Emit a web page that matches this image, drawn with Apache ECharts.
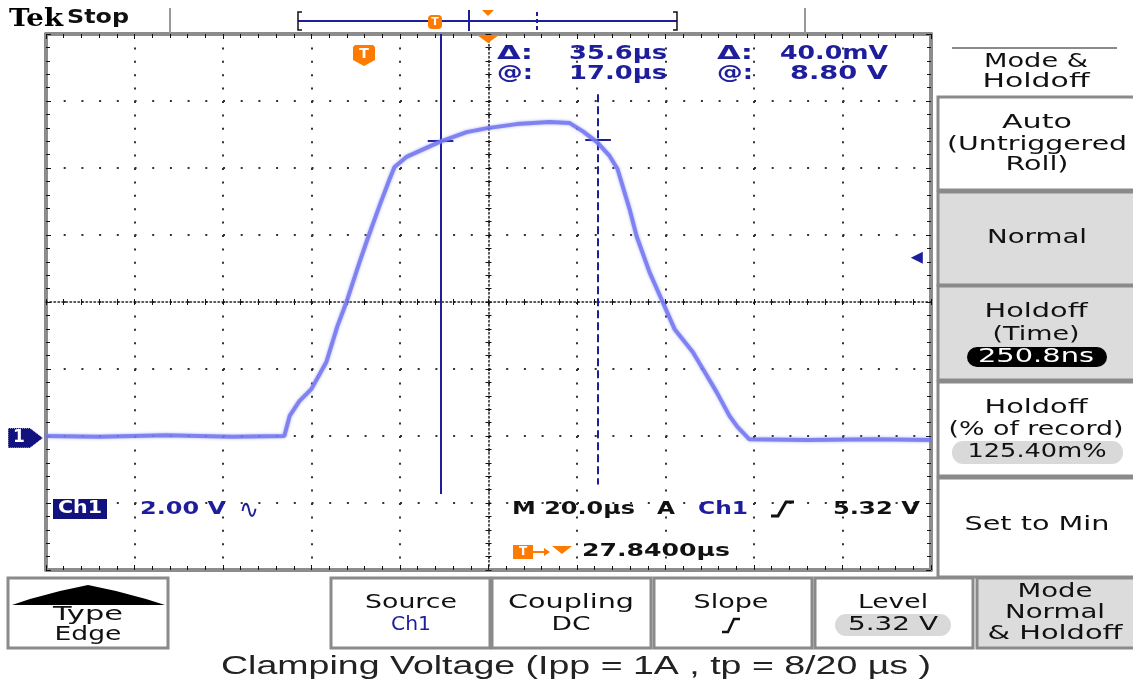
<!DOCTYPE html>
<html><head><meta charset="utf-8">
<script src="https://cdn.jsdelivr.net/npm/echarts@6/dist/echarts.min.js"></script>
<style>html,body{margin:0;padding:0;background:#fff}#c{width:1133px;height:685px}</style>
</head><body><div id="c"></div>
<script>
// ---------- data (time in µs relative to trigger, volts) ----------
const timeUs = [-72.16, -60, -45, -30, -18.3, -17.1, -14.9, -12.2, -8.8, -6.3, -4.25, -1.3, 0.5, 3.2, 5.5, 6.6, 9.3, 13.8, 16.8, 22.9, 27.6, 34.2, 41.6, 46.2, 49.1, 52.3, 55.2, 57.0, 59.7, 61.3, 64.2, 67.2, 69.9, 74.0, 76.7, 79.4, 82.3, 84.1, 86.8, 100, 115, 127.84];
const volts  = [0.0, -0.02, 0.02, -0.02, 0.0, 0.6, 1.04, 1.4, 2.21, 3.28, 4.0, 5.19, 5.88, 6.87, 7.67, 8.03, 8.33, 8.6, 8.78, 9.07, 9.19, 9.31, 9.37, 9.34, 9.1, 8.78, 8.36, 7.97, 6.78, 5.97, 4.9, 4.0, 3.19, 2.51, 1.91, 1.31, 0.6, 0.27, -0.1, -0.12, -0.1, -0.12];
const xRange = [-72.16, 127.84];   // screen span, µs (20 µs/div, centre = 27.84 µs)
const yRange = [-4, 12];           // volts (2 V/div)
const divTime = 20, divVolt = 2;
const cursorTimes = [17.0, 52.6];
const cursorVolts = [8.80, 8.84];
const cursorSpans = [[12, -1.73], [10.2, -1.45]];
const crossHalf = 2.9;             // µs
const trigLevel = 5.32;

// ---------- helpers ----------
const B = '#1e1e9c', NAVY = '#12127e', OR = '#ff7a00', GR = '#8a8a8a';
const mctx = document.createElement('canvas').getContext('2d');
function T(str, x, y, o) {
  o = o || {};
  const size = o.size || 20, weight = o.weight || 'normal', fam = o.family || 'DejaVu Sans';
  mctx.font = weight + ' ' + size + 'px "' + fam + '"';
  const mw = mctx.measureText(str).width;
  const sx = o.w ? o.w / mw : 1;
  const al = o.align || 'center';
  return {type:'text', x:x, y:y, scaleX:sx, z:o.z||20, silent:true,
    style:{text:str, fill:o.color||'#111', fontSize:size, fontWeight:weight, fontFamily:fam,
      textAlign:al, textVerticalAlign:'middle', align:al, verticalAlign:'middle'}};
}
function R(x, y, w, h, fill, o) { o=o||{}; return {type:'rect', z:o.z||10, silent:true, shape:{x:x,y:y,width:w,height:h,r:o.r||0}, style:{fill:fill, stroke:o.stroke||null, lineWidth:o.lw||0}}; }
function L(x1,y1,x2,y2,c,w,dash) { return {type:'line', z:15, silent:true, shape:{x1:x1,y1:y1,x2:x2,y2:y2}, style:{stroke:c, lineWidth:w, lineDash:dash||null}}; }
function P(pts, fill, z) { return {type:'polygon', z:z||15, silent:true, shape:{points:pts}, style:{fill:fill}}; }
function PL(pts, c, w) { return {type:'polyline', z:15, silent:true, shape:{points:pts}, style:{stroke:c, lineWidth:w, fill:null}}; }

const g = [];
// header
g.push(T('Tek', 9, 19, {align:'left', family:'DejaVu Serif', weight:'bold', size:25, w:54, color:'#000'}));
g.push(T('Stop', 67, 18, {align:'left', weight:'bold', size:19, w:62, color:'#111'}));
g.push(L(170, 8, 170, 33, '#999', 2), L(805, 8, 805, 33, '#999', 2));
g.push(L(298, 21, 677, 21, B, 2));
g.push(PL([[302,12],[298,12],[298,30],[302,30]], '#111', 1.5), PL([[673,12],[677,12],[677,30],[673,30]], '#111', 1.5));
g.push(L(469, 10, 469, 31, B, 2), L(537, 12, 537, 30, B, 2, [4,3]));
g.push(P([[482,10],[494,10],[488,16]], OR));
g.push(R(428, 15, 14, 14, OR, {r:4, z:16}), T('T', 435, 22, {size:11, weight:'bold', color:'#fff', z:17}));
g.push(P([[477,35],[499,35],[488,43]], OR, 30));
// trigger badge inside graticule
g.push(P([[353,47],[355,45],[373,45],[375,47],[375,60],[364,66],[353,60]], OR, 30), T('T', 364, 54, {size:14, weight:'bold', color:'#fff', z:31}));
// readouts
g.push(T('Δ:', 497, 54, {align:'left', weight:'bold', size:19, w:36, color:B}));
g.push(T('35.6µs', 667, 54, {align:'right', weight:'bold', size:19, w:98, color:B}));
g.push(T('Δ:', 717, 54, {align:'left', weight:'bold', size:19, w:36, color:B}));
g.push(T('40.0mV', 888, 54, {align:'right', weight:'bold', size:19, w:108, color:B}));
g.push(T('@:', 497, 74, {align:'left', weight:'bold', size:19, w:36, color:B}));
g.push(T('17.0µs', 667, 74, {align:'right', weight:'bold', size:19, w:98, color:B}));
g.push(T('@:', 717, 74, {align:'left', weight:'bold', size:19, w:36, color:B}));
g.push(T('8.80 V', 888, 74, {align:'right', weight:'bold', size:19, w:98, color:B}));
// channel / timebase
g.push(R(53, 499, 54, 20, NAVY, {z:30}), T('Ch1', 80, 509, {size:17, weight:'bold', color:'#fff', w:44, z:31}));
g.push(T('2.00 V', 140, 509, {align:'left', weight:'bold', size:18, w:86, color:B, z:31}));
g.push(T('∿', 239, 511, {align:'left', size:26, w:20, color:B, z:31}));
g.push(T('M 20.0µs', 512, 509, {align:'left', weight:'bold', size:18, w:123, z:31}));
g.push(T('A', 657, 509, {align:'left', weight:'bold', size:18, w:18, z:31}));
g.push(T('Ch1', 698, 509, {align:'left', weight:'bold', size:18, w:50, color:B, z:31}));
g.push(PL([[771,516],[778,516],[786,502],[794,502]], '#111', 3));
g.push(T('5.32 V', 920, 509, {align:'right', weight:'bold', size:18, w:87, z:31}));
g.push(R(513, 545, 20, 14, OR, {z:30}), T('T', 523, 552, {size:12, weight:'bold', color:'#fff', z:31}));
g.push(L(533, 552, 546, 552, OR, 2), P([[544,548],[550,552],[544,556]], OR, 31), P([[552,546],[572,546],[562,554]], OR, 31));
g.push(T('27.8400µs', 582, 551, {align:'left', weight:'bold', size:18, w:148, z:31}));
// ground marker
g.push({type:'polygon', z:30, silent:true, shape:{points:[[8,428],[30,428],[43,438],[30,448],[8,448]]}, style:{fill:NAVY, stroke:'#fff', lineWidth:1, lineDash:[1,1]}});
g.push(T('1', 19, 438, {size:17, weight:'bold', color:'#fff', z:31}));
// right menu
g.push(L(952, 48, 1117, 48, GR, 2));
g.push(T('Mode &', 1036, 62, {w:104}), T('Holdoff', 1036, 82, {w:107}));
g.push(R(938, 97, 200, 93, '#fff', {stroke:GR, lw:3}));
g.push(T('Auto', 1037, 123, {w:70}), T('(Untriggered', 1037, 145, {w:180}), T('Roll)', 1037, 165, {w:63}));
g.push(R(938, 192, 200, 93, '#dcdcdc', {stroke:GR, lw:3}));
g.push(T('Normal', 1037, 238, {w:100}));
g.push(R(938, 286, 200, 94, '#dcdcdc', {stroke:GR, lw:3}));
g.push(T('Holdoff', 1036, 312, {w:103}), T('(Time)', 1036, 335, {w:87}));
g.push(R(967, 347, 140, 20, '#000', {r:10, z:16}), T('250.8ns', 1036, 357, {w:116, color:'#fff', z:21}));
g.push(R(938, 382, 200, 94, '#fff', {stroke:GR, lw:3}));
g.push(T('Holdoff', 1036, 408, {w:103}), T('(% of record)', 1036, 430, {w:175}));
g.push(R(952, 441, 171, 23, '#d9d9d9', {r:11, z:16}), T('125.40m%', 1037, 452, {w:139, z:21}));
g.push(R(938, 478, 200, 99, '#fff', {stroke:GR, lw:3}));
g.push(T('Set to Min', 1037, 525, {w:145}));
// bottom menu
g.push(R(8, 578, 160, 70, '#fff', {stroke:GR, lw:3}));
g.push(P([[12,605],[30,599],[60,591],[88,585],[116,591],[146,599],[165,605]], '#000', 16));
g.push(T('Type', 88, 615, {w:70}), T('Edge', 88, 635, {w:67}));
g.push(R(331, 578, 159, 70, '#fff', {stroke:GR, lw:3}));
g.push(T('Source', 411, 603, {w:92}), T('Ch1', 411, 625, {w:40, color:B}));
g.push(R(492, 578, 159, 70, '#fff', {stroke:GR, lw:3}));
g.push(T('Coupling', 571, 603, {w:126}), T('DC', 571, 625, {w:39}));
g.push(R(654, 578, 158, 70, '#fff', {stroke:GR, lw:3}));
g.push(T('Slope', 731, 603, {w:75}), PL([[722,632],[728,632],[734,619],[740,619]], '#111', 2.5));
g.push(R(815, 578, 158, 70, '#fff', {stroke:GR, lw:3}));
g.push(T('Level', 893, 603, {w:70}), R(835, 614, 116, 22, '#d9d9d9', {r:11, z:16}), T('5.32 V', 893, 625, {w:90, z:21}));
g.push(R(977, 578, 160, 70, '#dcdcdc', {stroke:GR, lw:3}));
g.push(T('Mode', 1055, 592, {w:75}), T('Normal', 1055, 613, {w:100}), T('& Holdoff', 1055, 634, {w:135}));
// caption
g.push(T('Clamping Voltage (Ipp = 1A , tp = 8/20 µs )', 576, 667, {family:'Liberation Sans', size:25, w:710, color:'#222'}));

// ---------- axes (graticule) ----------
const X = {type:'value', min:xRange[0], max:xRange[1], interval:divTime, axisLabel:{show:false}, splitLine:{show:false}};
const Y = {type:'value', min:yRange[0], max:yRange[1], interval:divVolt, axisLabel:{show:false}, splitLine:{show:false}};
const frameLine = {onZero:false, lineStyle:{color:'#8c8c8c', width:4}};
const tick = (inside, len) => ({show:true, inside:inside, length:len, lineStyle:{color:'#111', width:1}});
const minor = (len) => ({show:true, splitNumber:5, length:len, lineStyle:{color:'#111', width:1}});
const centreLine = {onZero:false, lineStyle:{color:'#222', width:1.5, type:[1.5,2.5]}};

const chart = echarts.init(document.getElementById('c'), null, {renderer:'canvas'});
chart.setOption({
  animation:false,
  backgroundColor:'#fff',
  grid:{left:46, top:34, width:885, height:536, containLabel:false, outerBoundsMode:'none'},
  xAxis:[
    Object.assign({}, X, {position:'bottom', axisLine:frameLine, axisTick:tick(true,5), minorTick:minor(4),
      splitLine:{show:true, lineStyle:{color:'#333', width:2, type:[2,11.4]}}}),
    Object.assign({}, X, {position:'top', axisLine:frameLine, axisTick:tick(true,5), minorTick:minor(4)}),
    Object.assign({}, X, {position:'bottom', offset:-268, axisLine:centreLine, axisTick:tick(true,3), minorTick:minor(3)}),
    Object.assign({}, X, {position:'bottom', offset:-268, axisLine:{show:false, onZero:false}, axisTick:tick(false,3), minorTick:minor(3)})
  ],
  yAxis:[
    Object.assign({}, Y, {position:'left', axisLine:frameLine, axisTick:tick(true,5), minorTick:minor(4),
      splitLine:{show:true, lineStyle:{color:'#333', width:2, type:[2,15.7]}}}),
    Object.assign({}, Y, {position:'right', axisLine:frameLine, axisTick:tick(true,5), minorTick:minor(4)}),
    Object.assign({}, Y, {position:'left', offset:-442.5, axisLine:centreLine, axisTick:tick(true,3), minorTick:minor(3)}),
    Object.assign({}, Y, {position:'left', offset:-442.5, axisLine:{show:false, onZero:false}, axisTick:tick(false,3), minorTick:minor(3)})
  ],
  series:[{
    type:'line', xAxisIndex:0, yAxisIndex:0, showSymbol:false, silent:true, z:5,
    data: timeUs.map((t,i) => [t, volts[i]]),
    lineStyle:{color:'#7478ee', width:4, opacity:0.85, shadowBlur:3, shadowColor:'rgba(110,115,240,0.7)'},
    markLine:{
      symbol:['none','none'], silent:true, label:{show:false}, animation:false,
      data:[
        [{coord:[cursorTimes[0], cursorSpans[0][0]], lineStyle:{color:B, width:2, type:'solid', shadowBlur:0}}, {coord:[cursorTimes[0], cursorSpans[0][1]]}],
        [{coord:[cursorTimes[1], cursorSpans[1][0]], lineStyle:{color:B, width:2, type:[8,4], shadowBlur:0}}, {coord:[cursorTimes[1], cursorSpans[1][1]]}],
        [{coord:[cursorTimes[0]-crossHalf, cursorVolts[0]], lineStyle:{color:B, width:2, type:'solid', shadowBlur:0}}, {coord:[cursorTimes[0]+crossHalf, cursorVolts[0]]}],
        [{coord:[cursorTimes[1]-crossHalf, cursorVolts[1]], lineStyle:{color:B, width:2, type:'solid', shadowBlur:0}}, {coord:[cursorTimes[1]+crossHalf, cursorVolts[1]]}]
      ]
    },
    markPoint:{
      silent:true, animation:false, label:{show:false},
      data:[{coord:[xRange[1]-3.2, trigLevel], symbol:'triangle', symbolRotate:90, symbolSize:[12,12], itemStyle:{color:B}}]
    }
  }],
  graphic:{elements:g}
});
</script>
</body></html>
